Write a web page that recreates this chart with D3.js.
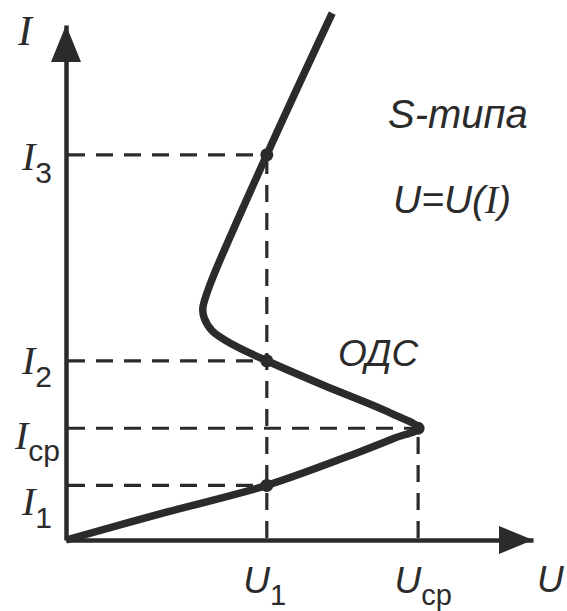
<!DOCTYPE html>
<html>
<head>
<meta charset="utf-8">
<script src="https://cdn.jsdelivr.net/npm/d3@7"></script>
<style>
  html, body { margin: 0; padding: 0; background: #fff; }
  svg { display: block; }
</style>
</head>
<body>
<svg id="chart" width="567" height="611"></svg>
<script>
// S-type current–voltage characteristic, U = U(I)

// curve samples along the characteristic (I rises monotonically along it)
const curveU = [0, 21.5, 43.0, 62.3, 70.4, 75.4, 69.4, 55.0, 43.0, 35.8, 31.3, 29.6, 29.3, 30.8, 43.0, 57.0];
const curveI = [0, 5.4, 10.6, 16.9, 19.8, 21.7, 24.7, 30.1, 34.8, 37.9, 40.6, 43.1, 45.0, 49.5, 74.8, 102.3];

// current levels marked on the I axis
const iTickSubs   = ["3", "2", "cp", "1"];
const iTickValues = [74.8, 34.8, 21.7, 10.6];

// voltage levels marked on the U axis
const uTickSubs   = ["1", "cp"];
const uTickValues = [43.0, 75.4];

// marked points on the curve
const markU = [43.0, 75.4, 43.0, 43.0];
const markI = [10.6, 21.7, 34.8, 74.8];

// guide lines: horizontal from the I axis, vertical from the U axis
const hGuideI = [74.8, 34.8, 21.7, 10.6];
const hGuideU = [43.0, 43.0, 75.4, 43.0];
const vGuideU = [43.0, 75.4];
const vGuideI = [74.8, 21.7];

const INK = "#2b2b2b";
const SANS = "'Liberation Sans', Arial, sans-serif";
const SERIF = "'Liberation Serif', 'Times New Roman', serif";

const svg = d3.select("#chart");

const x = d3.scaleLinear().domain([0, 100]).range([66, 533]);
const y = d3.scaleLinear().domain([0, 100]).range([540, 25]);

// dashed guides
const guides = svg.append("g")
  .attr("stroke", INK)
  .attr("stroke-width", 3.2)
  .attr("stroke-dasharray", "17,11")
  .attr("fill", "none");

guides.selectAll("line.h")
  .data(d3.range(hGuideI.length))
  .join("line")
  .attr("class", "h")
  .attr("x1", x(0) + 2)
  .attr("x2", i => x(hGuideU[i]))
  .attr("y1", i => y(hGuideI[i]))
  .attr("y2", i => y(hGuideI[i]));

guides.selectAll("line.v")
  .data(d3.range(vGuideU.length))
  .join("line")
  .attr("class", "v")
  .attr("x1", i => x(vGuideU[i]))
  .attr("x2", i => x(vGuideU[i]))
  .attr("y1", y(0) - 2)
  .attr("y2", i => y(vGuideI[i]));

// I axis
const iLabelShift = { "3": [0, 15], "2": [0, 13], "cp": [8, 20], "1": [0, 29.5] };
const yAxis = svg.append("g")
  .attr("transform", `translate(${x(0)},0)`)
  .call(d3.axisLeft(y).tickValues(iTickValues).tickSize(0).tickSizeOuter(0).tickFormat(""));
yAxis.select(".domain").attr("stroke", INK).attr("stroke-width", 4.5);
yAxis.selectAll(".tick text").each(function (d, k) {
  const sub = iTickSubs[k];
  const [dx, dy] = iLabelShift[sub];
  const t = d3.select(this)
    .attr("x", -14 + dx)
    .attr("y", dy)
    .attr("dy", null)
    .attr("text-anchor", "end")
    .attr("fill", INK)
    .attr("font-size", null)
    .attr("font-family", null);
  t.append("tspan").attr("font-family", SERIF).attr("font-style", "italic").attr("font-size", 40).text("I");
  t.append("tspan").attr("font-family", SANS).attr("font-size", 30).attr("dy", 12.5).text(sub);
});

// U axis
const xAxis = svg.append("g")
  .attr("transform", `translate(0,${y(0)})`)
  .call(d3.axisBottom(x).tickValues(uTickValues).tickSize(0).tickSizeOuter(0).tickFormat(""));
xAxis.select(".domain").attr("stroke", INK).attr("stroke-width", 4.5);
xAxis.selectAll(".tick text").each(function (d, k) {
  const t = d3.select(this)
    .attr("x", -24)
    .attr("y", 53)
    .attr("dy", null)
    .attr("text-anchor", "start")
    .attr("fill", INK)
    .attr("font-size", null)
    .attr("font-family", null);
  t.append("tspan").attr("font-family", SANS).attr("font-style", "italic").attr("font-size", 37).text("U");
  t.append("tspan").attr("font-family", SANS).attr("font-size", 29).attr("dy", 11.5).text(uTickSubs[k]);
});

// axis arrowheads
const [x0, xEnd] = x.range();
const [y0, yEnd] = y.range();
svg.append("path")
  .attr("d", `M${x0},${yEnd} L${x0 - 15},${yEnd + 37} L${x0 + 15},${yEnd + 37} Z`)
  .attr("fill", INK);
svg.append("path")
  .attr("d", `M${xEnd},${y0} L${xEnd - 34},${y0 - 14} L${xEnd - 34},${y0 + 14} Z`)
  .attr("fill", INK);

// axis names
svg.append("text")
  .attr("x", 18).attr("y", 45)
  .attr("font-family", SERIF).attr("font-style", "italic").attr("font-size", 42)
  .attr("fill", INK).text("I");
svg.append("text")
  .attr("x", 537).attr("y", 592)
  .attr("font-family", SANS).attr("font-style", "italic").attr("font-size", 37)
  .attr("fill", INK).text("U");

// characteristic curve
const curvePts = curveU.map((u, k) => ({ u, i: curveI[k] }));
svg.append("path")
  .datum(curvePts)
  .attr("fill", "none")
  .attr("stroke", INK)
  .attr("stroke-width", 7.5)
  .attr("stroke-linejoin", "round")
  .attr("d", d3.line().x(d => x(d.u)).y(d => y(d.i)).curve(d3.curveCatmullRom.alpha(0.5)));

// marked points
svg.selectAll("circle.mark")
  .data(d3.range(markU.length))
  .join("circle")
  .attr("class", "mark")
  .attr("cx", k => x(markU[k]))
  .attr("cy", k => y(markI[k]))
  .attr("r", 6.5)
  .attr("fill", INK);

// annotations
svg.append("text")
  .attr("x", 388).attr("y", 128)
  .attr("font-family", SANS).attr("font-style", "italic").attr("font-size", 40)
  .attr("fill", INK).text("S-типа");

const eq = svg.append("text")
  .attr("x", 393).attr("y", 213)
  .attr("font-family", SANS).attr("font-style", "italic").attr("font-size", 39)
  .attr("fill", INK);
eq.append("tspan").text("U=U(");
eq.append("tspan").attr("font-family", SERIF).text("I");
eq.append("tspan").text(")");

svg.append("text")
  .attr("x", 338).attr("y", 366)
  .attr("font-family", SANS).attr("font-style", "italic").attr("font-size", 37)
  .attr("fill", INK).text("ОДС");
</script>
</body>
</html>
